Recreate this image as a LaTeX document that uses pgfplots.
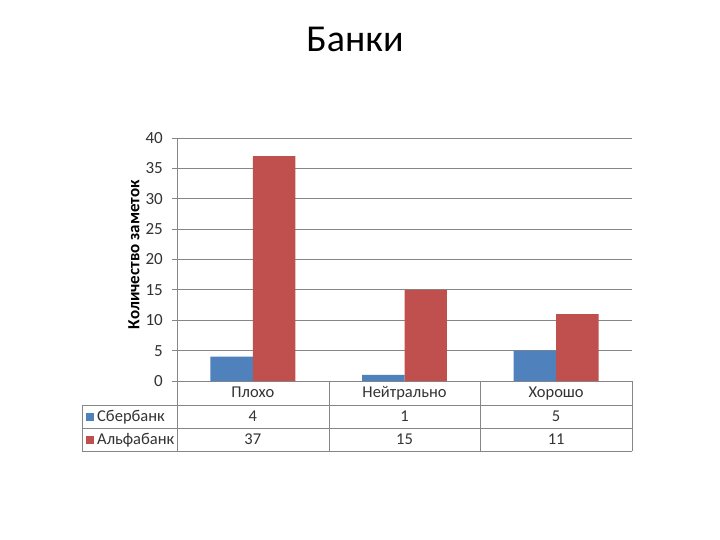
\documentclass[border=0pt]{standalone}
\usepackage{pgfplots}
\usepackage{pgfplotstable}
\pgfplotsset{compat=1.18}
\usepackage{fontspec}
\setmainfont{Carlito}
\definecolor{sber}{HTML}{4F81BD}
\definecolor{alfa}{HTML}{C0504D}
\definecolor{gridc}{HTML}{868686}
\pgfplotstableread{
x cat sber alfa
0.5 Плохо 4 37
1.5 Нейтрально 1 15
2.5 Хорошо 5 11
}\data
\begin{document}
\begin{tikzpicture}
\fill[white] (0,0) rectangle (720pt,-540pt);
\node[font=\fontsize{38}{44}\selectfont, anchor=base, inner sep=0pt] at (355pt,-52pt) {Банки};
\begin{axis}[
  at={(177pt,-381pt)}, anchor=south west,
  scale only axis, width=455pt, height=243pt,
  xmin=0, xmax=3, ymin=0, ymax=40,
  xtick=\empty, ytick={0,5,...,40},
  axis lines*=left,
  axis line style={gridc, line width=0.8pt},
  ymajorgrids, grid style={gridc, line width=0.8pt},
  tick align=outside, major tick length=5pt,
  tick style={gridc, line width=0.8pt},
  /pgf/number format/assume math mode=true,
  yticklabel style={font=\fontsize{17}{19}\selectfont, text=black!80, anchor=east, inner sep=0pt, xshift=-9pt},
  ylabel={\textbf{Количество заметок}},
  ylabel style={font=\fontsize{17}{19}\selectfont, at={(axis description cs:-0.0945,0.52)}, anchor=center},
  clip=false,
]
\addplot[ybar, bar width=0.28, bar shift=-0.14, fill=sber, draw=none] table[x=x,y=sber]{\data};
\addplot[ybar, bar width=0.28, bar shift=0.14, fill=alfa, draw=none] table[x=x,y=alfa]{\data};
\end{axis}
% data table
\begin{scope}[gridc, line width=0.8pt]
\draw (82pt,-405pt) -- (632pt,-405pt);
\draw (82pt,-428pt) -- (632pt,-428pt);
\draw (82pt,-451pt) -- (632pt,-451pt);
\draw (82pt,-405pt) -- (82pt,-451pt);
\draw (177pt,-381pt) -- (177pt,-451pt);
\draw (329pt,-381pt) -- (329pt,-451pt);
\draw (480pt,-381pt) -- (480pt,-451pt);
\draw (632pt,-381pt) -- (632pt,-451pt);
\end{scope}
\fill[sber] (86pt,-412.5pt) rectangle (94pt,-420.5pt);
\fill[alfa] (86pt,-435.5pt) rectangle (94pt,-443.5pt);
\node[font=\fontsize{16.5}{18}\selectfont, anchor=base west, inner sep=0pt, text=black!80] at (97pt,-421.5pt) {Сбербанк};
\node[font=\fontsize{16.5}{18}\selectfont, anchor=base west, inner sep=0pt, text=black!80] at (97pt,-444.5pt) {Альфабанк};
\foreach \i in {0,1,2} {
  \pgfplotstablegetelem{\i}{x}\of\data \pgfmathsetmacro{\xx}{177+151.667*\pgfplotsretval}
  \pgfplotstablegetelem{\i}{cat}\of\data \let\cc\pgfplotsretval
  \node[font=\fontsize{16.5}{18}\selectfont, anchor=base, inner sep=0pt, text=black!80] at (\xx pt,-397pt) {\cc};
  \pgfplotstablegetelem{\i}{sber}\of\data \let\vs\pgfplotsretval
  \node[font=\fontsize{16.5}{18}\selectfont, anchor=base, inner sep=0pt, text=black!80] at (\xx pt,-421.5pt) {\vs};
  \pgfplotstablegetelem{\i}{alfa}\of\data \let\va\pgfplotsretval
  \node[font=\fontsize{16.5}{18}\selectfont, anchor=base, inner sep=0pt, text=black!80] at (\xx pt,-444.5pt) {\va};
}
\end{tikzpicture}
\end{document}
